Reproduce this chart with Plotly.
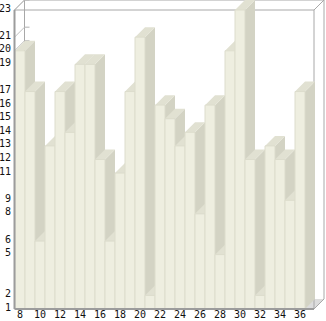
import plotly.graph_objects as go

# ---- data ----
categories = list(range(8, 37))
values = [20, 17, 6, 13, 17, 14, 19, 19, 12, 6, 11, 17, 21, 2, 16, 15, 13, 14, 8, 16,
          5, 20, 23, 12, 2, 13, 12, 9, 17]
y_tick_labels = [23, 21, 20, 19, 17, 16, 15, 14, 13, 12, 11, 9, 8, 6, 5, 2, 1]
x_tick_labels = list(range(8, 37, 2))

# ---- geometry helpers (axis units) ----
W, H = 326, 321
unit = 299 / 22.0           # px per y unit
ymin_v, ymax_v = 1, 23
y_lo = 23 - 311 / unit
y_hi = 23 + 10 / unit
x_lo = 7.5 - 15 / 10.0
x_hi = x_lo + W / 10.0
DX = 1.0
DY = 10 / unit
xL = 7.45
xR = 37.4

FRONT = "#EEEEE0"
TOP = "#E1E1D2"
SIDE = "#D3D3C4"
EDGE = "#DCDCCC"
FRAME = "#A8A8A8"
AXIS = "#9C9C9C"

fig = go.Figure()


def poly(xs, ys, fill, line_color=None, width=0):
    fig.add_trace(go.Scatter(
        x=xs + [xs[0]], y=ys + [ys[0]], mode="lines", fill="toself",
        fillcolor=fill, line=dict(color=line_color or fill, width=width),
        hoverinfo="skip", showlegend=False))


def seg(x0, y0, x1, y1, color=FRAME, width=1):
    fig.add_trace(go.Scatter(x=[x0, x1], y=[y0, y1], mode="lines",
                             line=dict(color=color, width=width),
                             hoverinfo="skip", showlegend=False))


# floor
poly([xL, xR, xR + DX, xL + DX], [ymin_v, ymin_v, ymin_v + DY, ymin_v + DY], "#DCDCDC")

# back frame / walls
seg(xL + DX, ymax_v + DY, xR + DX, ymax_v + DY)
seg(xR + DX, ymin_v + DY, xR + DX, ymax_v + DY)
seg(xL + DX, ymin_v + DY, xL + DX, ymax_v + DY)
seg(xL, ymax_v, xL + DX, ymax_v + DY)
seg(xR, ymax_v, xR + DX, ymax_v + DY)
seg(xR, ymin_v, xR + DX, ymin_v + DY)
for t in y_tick_labels:
    seg(xL, t, xL + DX, t + DY, color="#C0C0C0")
    seg(xL + DX, t + DY, xL + DX + 0.5, t + DY, color="#B0B0B0")
# front frame top/right
seg(xL, ymax_v, xR, ymax_v)
seg(xR, ymin_v, xR, ymax_v)

# bars (painter's order left to right)
for c, v in zip(categories, values):
    l, r = c - 0.5, c + 0.5
    poly([r, r + DX, r + DX, r], [ymin_v, ymin_v + DY, v + DY, v], SIDE)
    poly([l, r, r + DX, l + DX], [v, v, v + DY, v + DY], TOP)
    poly([l, r, r, l], [ymin_v, ymin_v, v, v], FRONT, EDGE, 1)

# axis lines
seg(xL, ymin_v, xL, ymax_v, color=AXIS, width=2)
seg(xL, ymin_v, xR, ymin_v, color=AXIS, width=2)

annotations = []
font = dict(family="DejaVu Sans Mono", size=10, color="#111111")
for t in y_tick_labels:
    annotations.append(dict(x=xL - 0.2, y=t, xref="x", yref="y", text=str(t),
                            showarrow=False, xanchor="right", yanchor="middle",
                            yshift=2, font=font))
for t in x_tick_labels:
    annotations.append(dict(x=t, y=0, xref="x", yref="paper", text=str(t),
                            showarrow=False, xanchor="center", yanchor="bottom",
                            yshift=0, borderpad=0, font=font))

fig.update_layout(
    width=W, height=H, margin=dict(l=0, r=0, t=0, b=0),
    paper_bgcolor="white", plot_bgcolor="white", showlegend=False,
    xaxis=dict(range=[x_lo, x_hi], visible=False, fixedrange=True),
    yaxis=dict(range=[y_lo, y_hi], visible=False, fixedrange=True),
    annotations=annotations,
)

fig.write_html("out.html")
